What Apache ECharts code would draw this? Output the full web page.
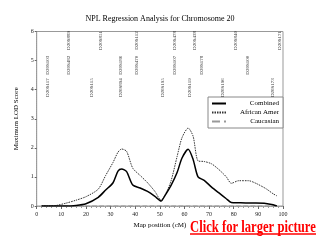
<!DOCTYPE html>
<html><head><meta charset="utf-8">
<script src="https://cdn.jsdelivr.net/npm/echarts@6/dist/echarts.min.js"></script>
<style>html,body{margin:0;padding:0;background:#fff}#c{width:320px;height:240px}</style>
</head><body><div id="c"></div>
<script>
var titleText = 'NPL Regression Analysis for Chromosome 20';
var xName = 'Map position (cM)';
var yName = 'Maximum LOD Score';
var linkText = 'Click for larger picture';
var seriesNames = ['Combined', 'African Amer', 'Caucasian'];
var positions = [2, 5, 8, 12, 16, 20, 25, 28, 31, 33, 34.5, 36.5, 39, 42, 45, 48, 50.5, 52, 54.5, 57, 59, 61.5, 63.5, 65.5, 68, 71, 74, 77, 79, 82, 86, 89, 93, 96, 97.5];
var combined = [0, 0, 0, 0, 0.02, 0.08, 0.3, 0.55, 0.8, 1.2, 1.27, 1.18, 0.72, 0.62, 0.5, 0.33, 0.17, 0.35, 0.7, 1.15, 1.65, 1.95, 1.6, 1.0, 0.88, 0.65, 0.45, 0.25, 0.12, 0.11, 0.1, 0.1, 0.09, 0.04, 0];
var africanAmer = [0, 0, 0.02, 0.1, 0.2, 0.32, 0.58, 1.05, 1.5, 1.85, 1.96, 1.88, 1.3, 1.05, 0.8, 0.5, 0.2, 0.35, 0.85, 1.7, 2.35, 2.68, 2.4, 1.55, 1.53, 1.45, 1.25, 1.0, 0.78, 0.87, 0.87, 0.78, 0.6, 0.42, 0.35];
var caucasian = [0, 0, 0, 0, 0, 0, 0, 0, 0, 0, 0, 0, 0, 0, 0, 0, 0, 0, 0, 0, 0, 0, 0, 0, 0, 0, 0, 0, 0, 0, 0, 0, 0, 0, 0];
var markerNames = ['D20S117', 'D20S103', 'D20S889', 'D20S482', 'D20S115', 'D20S851', 'D20S186', 'D20S894', 'D20S112', 'D20S470', 'D20S195', 'D20S478', 'D20S107', 'D20S119', 'D20S438', 'D20S178', 'D20S196', 'D20S840', 'D20S100', 'D20S173', 'D20S171'];
var markerPos = [4.6, 4.6, 13.1, 13.1, 22.4, 26.1, 34.0, 34.0, 40.5, 40.5, 51.2, 56.1, 56.1, 62.2, 64.2, 66.9, 75.6, 80.9, 85.7, 95.9, 98.7];
var markerLevel = [4.07, 4.84, 5.69, 4.84, 4.07, 5.69, 4.84, 4.07, 5.69, 4.84, 4.07, 5.69, 4.84, 4.07, 5.69, 4.84, 4.07, 5.69, 4.84, 4.07, 5.69];
var xTicks = {min: 0, max: 100, interval: 10};
var yTicks = {min: 0, max: 6, interval: 1};

var SERIF = 'Liberation Serif';
function pairs(xs, ys) { return xs.map(function (x, i) { return [x, ys[i]]; }); }
var markerData = markerNames.map(function (n, i) { return {name: n, value: [markerPos[i], markerLevel[i]]}; });

var chart = echarts.init(document.getElementById('c'), null, {renderer: 'canvas'});
chart.setOption({
  animation: false,
  backgroundColor: '#fff',
  textStyle: {fontFamily: SERIF},
  title: {text: titleText, left: 'center', top: 15, itemGap: 0, padding: 0,
    textStyle: {fontFamily: SERIF, fontSize: 8, fontWeight: 'normal', color: '#000'}},
  grid: {left: 36.7, right: 37, top: 31.5, bottom: 34, show: true, borderColor: '#999', borderWidth: 1},
  legend: {
    data: seriesNames,
    orient: 'vertical', right: 37, top: 97,
    itemWidth: 14, itemHeight: 6, itemGap: 2, padding: [3, 4, 3, 3],
    borderColor: '#888', borderWidth: 1, backgroundColor: '#fff', borderRadius: 0,
    itemStyle: {color: 'rgba(0,0,0,0)', borderColor: 'rgba(0,0,0,0)', borderWidth: 0, opacity: 0},
    formatter: '{a|{name}}',
    textStyle: {fontFamily: SERIF, fontSize: 7, color: '#000',
      rich: {a: {width: 48, align: 'right', fontFamily: SERIF, fontSize: 7, color: '#000'}}}
  },
  xAxis: {
    type: 'value', min: xTicks.min, max: xTicks.max, interval: xTicks.interval,
    name: xName, nameLocation: 'middle', nameGap: 16,
    nameTextStyle: {fontFamily: SERIF, fontSize: 7, color: '#000'},
    axisLine: {lineStyle: {color: '#999', type: 'dotted', width: 1}},
    axisTick: {show: true, length: 3, lineStyle: {color: '#666'}},
    minorTick: {show: true, splitNumber: 5, length: 2, lineStyle: {color: '#999'}},
    axisLabel: {fontFamily: SERIF, fontSize: 6, color: '#222', margin: 5},
    splitLine: {show: false}
  },
  yAxis: {
    type: 'value', min: yTicks.min, max: yTicks.max, interval: yTicks.interval,
    name: yName, nameLocation: 'middle', nameGap: 12,
    nameTextStyle: {fontFamily: SERIF, fontSize: 7, color: '#000'},
    axisLine: {show: true, lineStyle: {color: '#999', type: 'dotted', width: 1}},
    axisTick: {show: true, length: 2, lineStyle: {color: '#666'}},
    axisLabel: {fontFamily: SERIF, fontSize: 6, color: '#222', margin: 3},
    splitLine: {show: false}
  },
  series: [
    {name: seriesNames[2], type: 'line', data: pairs(positions, caucasian), symbol: 'none', z: 2,
      lineStyle: {color: '#999', width: 1.2, type: 'dashed'}, itemStyle: {color: '#999'}},
    {name: seriesNames[1], type: 'line', data: pairs(positions, africanAmer), symbol: 'none', smooth: 0.25, z: 3,
      lineStyle: {color: '#333', width: 1, type: [1.5, 1]}, itemStyle: {color: '#333'}},
    {name: seriesNames[0], type: 'line', data: pairs(positions, combined), symbol: 'none', smooth: 0.25, z: 4,
      lineStyle: {color: '#000', width: 1.5, type: 'solid'}, itemStyle: {color: '#000'}},
    {name: 'markers', type: 'scatter', data: markerData, symbolSize: 0, silent: true, z: 5,
      label: {show: true, position: 'inside', rotate: 90, formatter: '{b}',
        fontFamily: SERIF, fontSize: 5, color: '#000'}}
  ],
  graphic: [
    {type: 'text', left: 190, top: 220, scaleX: 0.79,
      style: {text: linkText, font: 'bold 16px "Liberation Serif"', fill: '#ff0000'}},
    {type: 'line', shape: {x1: 190, y1: 234, x2: 316, y2: 234}, style: {stroke: '#ff0000', lineWidth: 1.5}}
  ]
});
</script></body></html>
